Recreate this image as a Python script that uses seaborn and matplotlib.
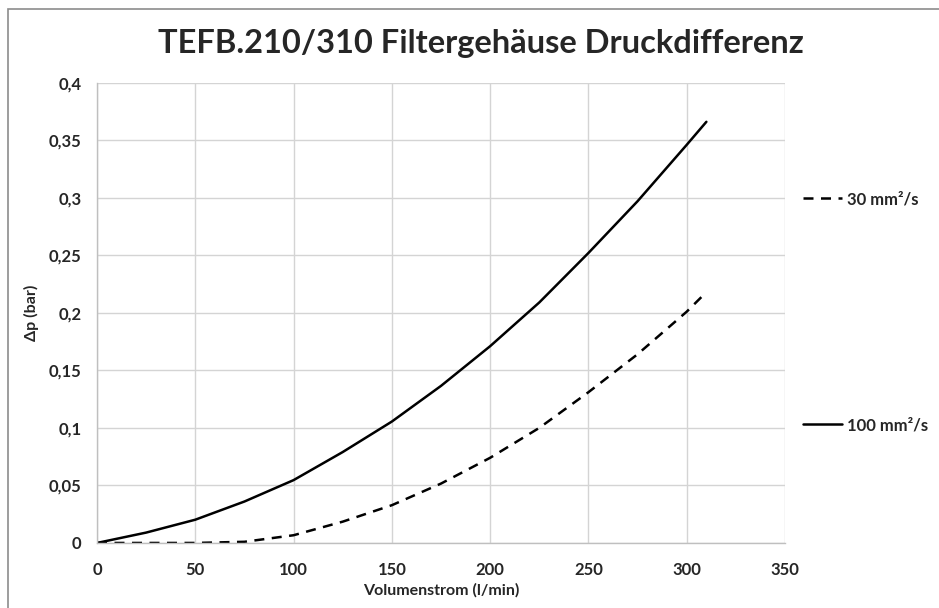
import matplotlib
matplotlib.use("Agg")
import matplotlib.pyplot as plt
import matplotlib.patches as patches
from matplotlib.ticker import FuncFormatter, MultipleLocator
import pandas as pd
import seaborn as sns

# Volumenstrom in l/min
volumenstrom = [0, 25, 50, 75, 100, 125, 150, 175, 200, 225, 250, 275, 300, 310]
# Druckdifferenz in bar je Viskosität
dp_30 = [0, 0, 0, 0.001, 0.0067, 0.0185, 0.0328, 0.0516, 0.074, 0.1, 0.131, 0.164, 0.201, 0.218]
dp_100 = [0, 0.009, 0.0202, 0.036, 0.0546, 0.0790, 0.1055, 0.1365, 0.171, 0.209, 0.252, 0.297, 0.346, 0.366]
etiquetas = ["30 mm²/s", "100 mm²/s"]

titulo = "TEFB.210/310 Filtergehäuse Druckdifferenz"
eje_x = "Volumenstrom (l/min)"
eje_y = "Δp (bar)"

sns.set_style("white")
plt.rcParams['font.family'] = ['Lato', 'DejaVu Sans']

df = pd.DataFrame({'q': volumenstrom, 'dp30': dp_30, 'dp100': dp_100})

fig = plt.figure(figsize=(9.39, 6.08), dpi=100)
ax = fig.add_axes([0.1033, 0.107, 0.7327, 0.757])

# Kennlinien
sns.lineplot(data=df, x='q', y='dp30', ax=ax, color='black', linewidth=1.8,
             label=etiquetas[0])
sns.lineplot(data=df, x='q', y='dp100', ax=ax, color='black', linewidth=1.8,
             label=etiquetas[1])
ax.lines[0].set_dashes((4, 3))

ax.set_xlim(0, 350)
ax.set_ylim(0, 0.4)
ax.xaxis.set_major_locator(MultipleLocator(50))
ax.yaxis.set_major_locator(MultipleLocator(0.05))
ax.yaxis.set_major_formatter(FuncFormatter(lambda v, p: f"{v:.2f}".rstrip('0').rstrip('.').replace('.', ',')))
ax.grid(True, color='#d4d4d4', linewidth=1)
ax.set_axisbelow(True)

for lado in ['top', 'right']:
    ax.spines[lado].set_visible(False)
for lado in ['left', 'bottom']:
    ax.spines[lado].set_color('#bfbfbf')
    ax.spines[lado].set_linewidth(1)

ax.tick_params(axis='y', length=5, color='#bfbfbf', labelsize=12, pad=6)
ax.tick_params(axis='x', length=0, labelsize=12, pad=14)
for t in ax.get_xticklabels() + ax.get_yticklabels():
    t.set_fontweight('bold')

ax.set_xlabel(eje_x, fontsize=11.5, fontweight='bold')
ax.set_ylabel(eje_y, fontsize=11.5, fontweight='bold', labelpad=7)
ax.xaxis.set_label_coords(0.5, -0.088)
fig.suptitle(titulo, x=0.512, y=0.952, fontsize=23.5, fontweight='bold')

# Legende rechts, weit gespreizt wie im Original
leg = ax.legend(loc='upper left', bbox_to_anchor=(1.005, 0.797), frameon=False,
                handlelength=2.3, handletextpad=0.3, labelspacing=12.6,
                prop={'weight': 'bold', 'size': 12})

# Rahmen um die Grafik
fig.add_artist(patches.Rectangle((0.008, -0.01), 1.0, 0.995, transform=fig.transFigure,
                                 fill=False, edgecolor='#8c8c8c', linewidth=1.2))

fig.savefig('out.png', dpi=100)
